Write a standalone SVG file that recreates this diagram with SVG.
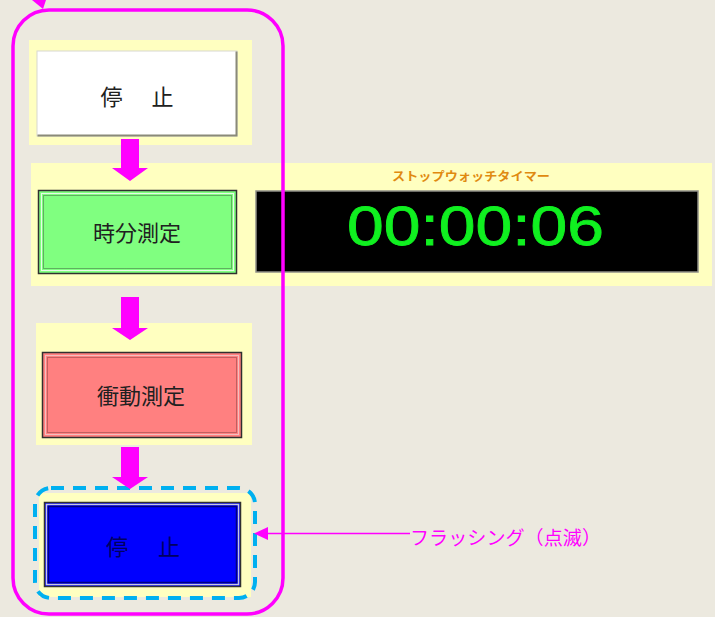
<svg xmlns="http://www.w3.org/2000/svg" width="715" height="617" viewBox="0 0 715 617">
<style>
.yb{fill:#FFFFC0}
.lbl{font-family:"Noto Sans CJK JP","Noto Sans CJK SC",sans-serif;font-size:22px;text-anchor:middle;fill:#202020}
.arr{fill:#FF00FF}
</style>
<rect width="715" height="617" fill="#ECE9DF"/>
<g id="n-stop1">
<rect class="yb" x="29" y="40" width="223" height="105"/>
<rect x="37" y="51" width="200" height="85" fill="#FFFFFF" stroke="#D8D8D0" stroke-width="1"/>
<path d="M37.5 135.5 H236.5 V51.5" fill="none" stroke="#8A8A78" stroke-width="2"/>
<text class="lbl" x="137" y="105" textLength="73" lengthAdjust="spacing">停　止</text>
</g>
<g id="n-hm">
<rect class="yb" x="31" y="163" width="681" height="123"/>
<rect x="38.5" y="190.5" width="198" height="83" fill="#80FF80" stroke="#303030" stroke-width="1.5"/>
<rect x="41.5" y="193.5" width="192" height="77" fill="none" stroke="#E8F8E8" stroke-width="1"/>
<rect x="43.5" y="195.5" width="188" height="73" fill="none" stroke="#406040" stroke-width="1" stroke-dasharray="1,1"/>
<text class="lbl" x="137" y="241">時分測定</text>
</g>
<g id="n-timer">
<text x="471" y="181" font-family="'Noto Sans CJK JP',sans-serif" font-size="12" font-weight="bold" fill="#E08A10" text-anchor="middle" textLength="158" lengthAdjust="spacingAndGlyphs">ストップウォッチタイマー</text>
<rect x="256" y="191" width="442" height="81" fill="#000000" stroke="#909088" stroke-width="1.5"/>
<text x="347" y="245" font-family="'Liberation Sans',Arial,sans-serif" font-size="56" fill="#10F020" stroke="#10F020" stroke-width="0.8" textLength="257" lengthAdjust="spacingAndGlyphs">00:00:06</text>
</g>
<g id="n-shock">
<rect class="yb" x="36" y="323" width="216" height="122"/>
<rect x="42.5" y="352.5" width="199" height="85" fill="#FF8080" stroke="#303030" stroke-width="1.5"/>
<rect x="45.5" y="355.5" width="193" height="79" fill="none" stroke="#F0C0C0" stroke-width="1"/>
<rect x="47.5" y="357.5" width="189" height="75" fill="none" stroke="#804040" stroke-width="1" stroke-dasharray="1,1"/>
<text class="lbl" x="141" y="404">衝動測定</text>
</g>
<g id="n-stop2">
<rect class="yb" x="39" y="493" width="212" height="104"/>
<rect x="44.5" y="502.5" width="196" height="84" fill="#0000FF" stroke="#303030" stroke-width="1.5"/>
<rect x="46.5" y="504.5" width="192" height="80" fill="none" stroke="#C8C8E0" stroke-width="1.5"/>
<rect x="48.5" y="506.5" width="188" height="76" fill="none" stroke="#000080" stroke-width="1.5"/>
<text class="lbl" x="143" y="555" textLength="74" lengthAdjust="spacing" style="fill:#000060">停　止</text>
<rect x="35" y="488" width="220" height="110" rx="16" fill="none" stroke="#00B0F0" stroke-width="4" stroke-dasharray="13,9"/>
</g>
<g id="loop">
<rect x="13" y="10" width="270" height="604" rx="36" fill="none" stroke="#FF00FF" stroke-width="3.5"/>
<polygon points="32,0 46,0 43,9" fill="#FF00FF"/>
</g>
<g id="connectors">
<polygon class="arr" points="121,139 139,139 139,168 148,168 130,181 112,168 121,168"/>
<polygon class="arr" points="121,297 139,297 139,328 148,328 130,340 112,328 121,328"/>
<polygon class="arr" points="121,447 139,447 139,477 148,477 130,489 112,477 121,477"/>
<line x1="410" y1="533.5" x2="266" y2="533.5" stroke="#FF00FF" stroke-width="1.5"/>
<polygon class="arr" points="254,533.5 268,527 268,540"/>
</g>
<text x="410" y="545" font-family="'Noto Sans CJK JP',sans-serif" font-size="19" fill="#FF00FF" textLength="191" lengthAdjust="spacingAndGlyphs">フラッシング（点滅）</text>
</svg>
